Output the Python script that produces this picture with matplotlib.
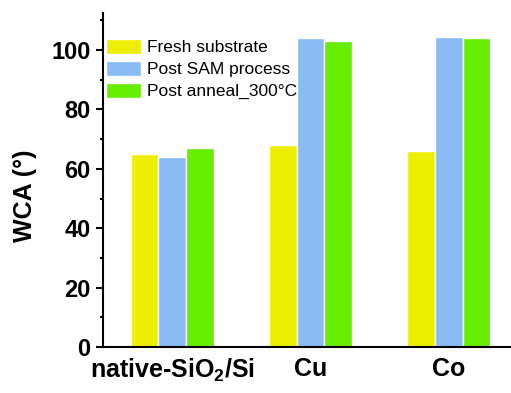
import matplotlib
matplotlib.use("Agg")
import matplotlib.pyplot as plt
import numpy as np
from matplotlib.ticker import MultipleLocator

plt.rcParams['font.family'] = ['Liberation Sans', 'DejaVu Sans']
plt.rcParams['mathtext.fontset'] = 'custom'
plt.rcParams['mathtext.rm'] = 'Liberation Sans:bold'
plt.rcParams['mathtext.bf'] = 'Liberation Sans:bold'
plt.rcParams['mathtext.it'] = 'Liberation Sans:bold'

categories = [r"native-SiO$_\mathbf{2}$/Si", "Cu", "Co"]
series_names = ["Fresh substrate", "Post SAM process", "Post anneal_300\u00b0C"]
fresh = [65, 68, 66]
post_sam = [64, 104, 104.3]
post_anneal = [67, 103, 104]
colors = ["#EEEE00", "#8ABBF5", "#66EE00"]

fig = plt.figure(figsize=(5.11, 3.93), dpi=100)
ax = fig.add_axes([103/511, 46/393, 415/511, 334/393])

x = np.arange(len(categories))
w = 0.2
for i, (vals, name, c) in enumerate(zip([fresh, post_sam, post_anneal], series_names, colors)):
    ax.bar(x + (i - 1) * w, vals, width=w, color=c, edgecolor='white', linewidth=1.0, label=name)

ax.set_xlim(-0.5, 2.5)
ax.set_ylim(0, 112.5)
ax.set_xticks(x)
ax.set_xticklabels(categories, fontsize=18, fontweight='bold')
ax.yaxis.set_major_locator(MultipleLocator(20))
ax.yaxis.set_minor_locator(MultipleLocator(10))
ax.set_yticks([0, 20, 40, 60, 80, 100])
for lab in ax.get_yticklabels():
    lab.set_fontweight('bold')
    lab.set_fontsize(17)
ax.tick_params(axis='y', which='major', length=5, width=1.5, direction='out', pad=4)
ax.tick_params(axis='y', which='minor', length=2.5, width=1.5, direction='out')
ax.tick_params(axis='x', length=0, pad=7)

for s in ['top', 'right']:
    ax.spines[s].set_visible(False)
ax.spines['left'].set_linewidth(1.5)
ax.spines['bottom'].set_linewidth(1.5)

ax.set_ylabel("WCA (\u00b0)", fontsize=18, fontweight='bold')
ax.yaxis.set_label_coords(-0.16, 0.452)

leg = ax.legend(loc='upper left', bbox_to_anchor=(0.007, 0.923), frameon=False,
                fontsize=12.5, handlelength=2.0, handleheight=0.95,
                handletextpad=0.35, labelspacing=0.32, borderpad=0, borderaxespad=0)

fig.savefig("out.png", dpi=100)
